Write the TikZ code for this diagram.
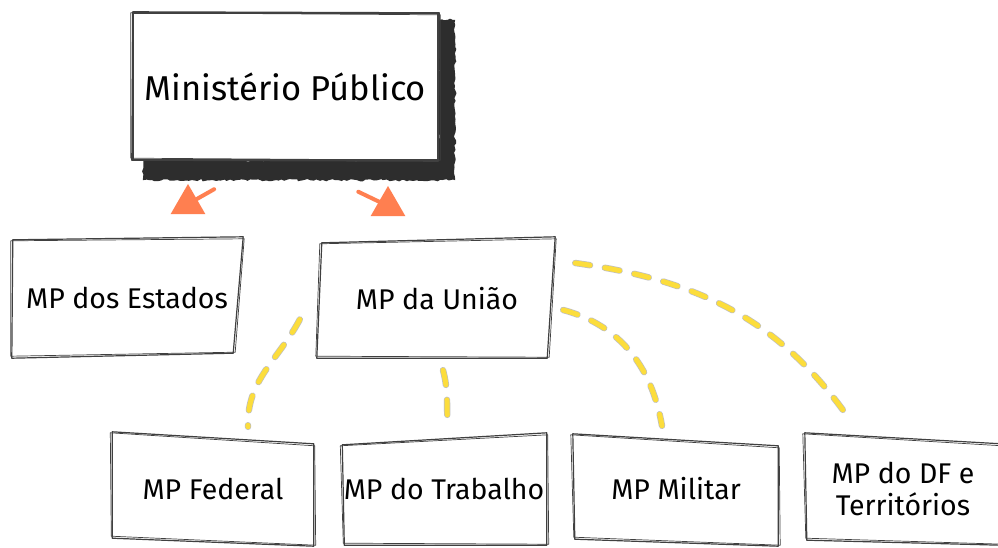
\documentclass[tikz,border=0pt]{standalone}
\usepackage{fontspec}
\setmainfont{Fira Sans}
\usetikzlibrary{shapes.geometric, decorations.pathmorphing, positioning}

\definecolor{mporange}{RGB}{255,127,80}
\definecolor{mpyellow}{RGB}{252,221,60}
\definecolor{mpshadow}{RGB}{45,45,45}

% hand drawn outline round a node: name, then shifts of NW, NE, SE, SW corners
\newcommand{\roughbox}[5]{%
  \draw[sketch] ([shift={#2}]#1.north west) -- ([shift={#3}]#1.north east)
    -- ([shift={#4}]#1.south east) -- ([shift={#5}]#1.south west) -- cycle;
  \draw[sketch, line width=0.7pt] ([shift={#2},shift={(-2,-1)}]#1.north west)
    -- ([shift={#3},shift={(1,-2)}]#1.north east)
    -- ([shift={#4},shift={(2,1)}]#1.south east)
    -- ([shift={#5},shift={(-1,2)}]#1.south west) -- cycle;
}

\begin{document}
\begin{tikzpicture}[x=1pt, y=1pt]
        \tikzstyle{box}=[rectangle, inner sep=0pt, align=center, text=black, font=\fontsize{28.5}{32}\selectfont]
        \tikzstyle{sketch}=[draw=black!75, line width=1.2pt, line join=round]
        \tikzstyle{stem}=[draw=mporange, line width=4pt, line cap=round]
        \tikzstyle{head}=[regular polygon, regular polygon sides=3, fill=mporange, minimum size=40pt, inner sep=0pt]
        \tikzstyle{dashline}=[draw=mpyellow, line width=5pt, line cap=round, dash pattern=on 15pt off 15pt,
            preaction={draw=black!25, line width=6.4pt, line cap=round, dash pattern=on 15pt off 15pt}]

        \fill[white] (0,0) rectangle (998,-548);
        \useasboundingbox (0,0) rectangle (998,-548);

        % Top box with its heavy shadow
        \node[box, fill=white, font=\fontsize{34.5}{40}\selectfont, minimum width=305pt, minimum height=147pt] (mp) at (285.5,-86.5) {Ministério Público};
        \fill[mpshadow, decorate, decoration={random steps, segment length=3pt, amplitude=1.2pt}]
            ([yshift=-7]mp.north east) -- ([shift={(17,-7)}]mp.north east) -- ([shift={(17,-20)}]mp.south east)
            -- ([shift={(10,-20)}]mp.south west) -- ([xshift=10]mp.south west) -- (mp.south east) -- cycle;
        \draw[sketch, line width=2pt] (mp.north west) rectangle (mp.south east);
        \roughbox{mp}{(0,1)}{(1,0)}{(0,-1)}{(-1,0)}

        % Second level
        \node[box, minimum width=228pt, minimum height=118pt] (estados) at (127,-298) {MP dos Estados};
        \node[box, minimum width=232pt, minimum height=118pt] (uniao) at (437,-299) {MP da União};
        \roughbox{estados}{(0,-1)}{(2,2)}{(-8,4)}{(-1,-1)}
        \roughbox{uniao}{(1,-3)}{(2,3)}{(-6,0)}{(-4,0)}

        % Draw the lower boxes
        \foreach \name/\x/\w/\txt in {federal/213/201/MP Federal, trabalho/444/203/MP do Trabalho,
                                      militar/676/204/MP Militar, df/903/196/{MP do DF e\\Territórios}}
            \node[box, minimum width=\w pt, minimum height=106pt] (\name) at (\x,-489) {\txt};
        \roughbox{federal}{(0,4)}{(0,-8)}{(0,-4)}{(0,4)}
        \roughbox{trabalho}{(0,-9)}{(1,3)}{(1,-3)}{(2,-3)}
        \roughbox{militar}{(-1,2)}{(0,-10)}{(0,-4)}{(1,3)}
        \roughbox{df}{(0,3)}{(0,-8)}{(0,-3)}{(2,2)}

        % Orange arrows
        \node[head] (headL) at (188,-204) {};
        \node[head] (headR) at (388,-206) {};
        \draw[stem, shorten <=59pt] ([xshift=-20]mp.south) -- (headL);
        \draw[stem, shorten <=73pt] ([xshift=7]mp.south) -- (headR);

        % Yellow dashed links
        \draw[dashline] ([xshift=-21]uniao.190) to[out=-118, in=92] ([shift={(35,9)}]federal.north);
        \draw[dashline] ([shift={(6,-12)}]uniao.south) to[out=-75, in=95] ([shift={(4,8)}]trabalho.north);
        \draw[dashline] ([shift={(10,-11)}]uniao.east) to[out=-15, in=100] ([shift={(-14,10)}]militar.north);
        \draw[dashline] ([shift={(22,36)}]uniao.east) to[out=-8, in=125] ([shift={(-53,16)}]df.north);
\end{tikzpicture}
\end{document}
